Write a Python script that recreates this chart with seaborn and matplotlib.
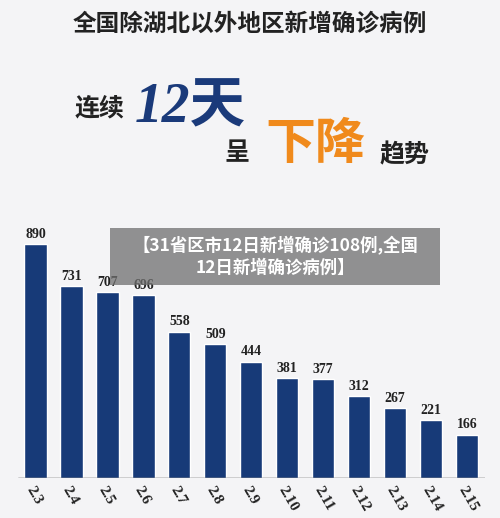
import matplotlib
matplotlib.use("Agg")
import matplotlib.pyplot as plt
import seaborn as sns
import pandas as pd
from matplotlib.patches import Rectangle

dates = ["2.3", "2.4", "2.5", "2.6", "2.7", "2.8", "2.9", "2.10", "2.11", "2.12", "2.13", "2.14", "2.15"]
cases = [890, 731, 707, 696, 558, 509, 444, 381, 377, 312, 267, 221, 166]

sns.set_style("white")
plt.rcParams['font.family'] = ['Noto Sans CJK SC', 'DejaVu Sans']

df = pd.DataFrame({"date": dates, "cases": cases})
bg = "#f4f4f6"
fig = plt.figure(figsize=(5, 5.18), dpi=100, facecolor=bg)

ax = fig.add_axes([0.035, 0.077, 0.935, 0.48])
ax.set_facecolor(bg)
sns.barplot(data=df, x="date", y="cases", color="#173a78", width=0.62, ax=ax, saturation=1)
ax.set_ylim(0, 947)
ax.set_xlim(-0.5, len(dates) - 0.5)
for i, v in enumerate(cases):
    ax.text(i, v + 12, str(v), ha="center", va="bottom", fontsize=10,
            fontweight="bold", family="Liberation Serif", color="#222222")
ax.set_xlabel("")
ax.set_ylabel("")
ax.set_yticks([])
ax.set_xticks(range(len(dates)))
ax.set_xticklabels(dates, rotation=-60, ha="left", rotation_mode="anchor",
                   fontsize=11, fontweight="bold", family="Liberation Serif", color="#222222")
ax.tick_params(axis="x", length=0, pad=4)
for s in ax.spines.values():
    s.set_visible(False)
ax.axhline(0, color="#333333", lw=1)

# headline texts
fig.text(0.5, 0.955, "全国除湖北以外地区新增确诊病例", ha="center", va="center",
         fontsize=17, fontweight="bold", color="#222222")
fig.text(0.2, 0.79, "连续", ha="center", va="center", fontsize=18, fontweight="bold", color="#222222")
fig.text(0.38, 0.79, "12天", ha="center", va="center", fontsize=40, fontweight="bold",
         style="italic", color="#1a3a7a", family=["Liberation Serif", "Noto Sans CJK SC"])
fig.text(0.475, 0.705, "呈", ha="center", va="center", fontsize=18, fontweight="bold", color="#222222")
fig.text(0.63, 0.722, "下降", ha="center", va="center", fontsize=36, fontweight="bold", color="#f08a1c")
fig.text(0.81, 0.7, "趋势", ha="center", va="center", fontsize=18, fontweight="bold", color="#222222")

# grey banner
fig.patches.append(Rectangle((0.22, 0.45), 0.66, 0.11, transform=fig.transFigure,
                             facecolor="#6f6f6f", alpha=0.75, edgecolor="none", zorder=5))
fig.text(0.55, 0.505, "【31省区市12日新增确诊108例,全国\n12日新增确诊病例】", ha="center", va="center",
         fontsize=12.5, fontweight="bold", color="white", linespacing=1.3, zorder=6)

fig.savefig("out.png", dpi=100, facecolor=bg)
